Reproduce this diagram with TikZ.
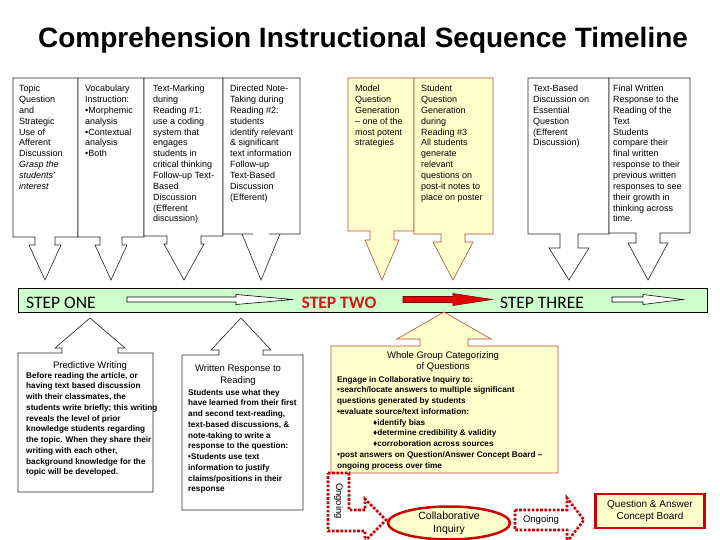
\documentclass[tikz,border=0pt]{standalone}
\usepackage{fontspec}
\setmainfont{Liberation Sans}
\newfontfamily\stepfont{Carlito}
\usetikzlibrary{shapes.geometric}

\definecolor{barGreen}{RGB}{204,255,204}
\definecolor{paleYellow}{RGB}{255,255,204}
\definecolor{boxRed}{RGB}{192,72,56}
\definecolor{dotRed}{RGB}{204,0,0}
\definecolor{stepRed}{RGB}{214,24,24}

\tikzset{
  calloutline/.style={draw=black!85, line width=0.6pt, fill=white},
  yellowline/.style={draw=boxRed, line width=0.6pt, fill=paleYellow},
  smalltext/.style={font=\fontsize{9}{10.85}\selectfont, align=left, anchor=north west, inner sep=0pt},
  bodytext/.style={font=\fontsize{8.2}{10.75}\selectfont\bfseries, align=left, anchor=north west, inner sep=0pt},
  headtext/.style={font=\fontsize{9.5}{12}\selectfont, align=center, anchor=north, inner sep=0pt},
  steptext/.style={font=\stepfont\fontsize{17.5}{18}\selectfont, inner sep=0pt},
  ongoing/.style={draw=dotRed, line width=2.6pt, dash pattern=on 2.6pt off 1.6pt},
}

\begin{document}
\begin{tikzpicture}[x=1pt,y=-1pt]
    \useasboundingbox (0,0) rectangle (720,540);
    \clip (0,0) rectangle (720,540);
    \fill[white] (0,0) rectangle (720,540);

    \node[font=\fontsize{28}{30}\selectfont\bfseries, anchor=base] (title) at (363,48) {Comprehension Instructional Sequence Timeline};

    \foreach \xl/\xr/\yb/\xc/\sw/\hw/\yn in {13/78/237/45/10/16/245, 78/144/237/111/11/16/245, 144/223/236/184/17/20/244, 223/300/234/261/8/19/234, 528/609/234/569/9/20/248, 609/690/233/648/12/20/243} {
      \draw[calloutline] (\xl,78) -- (\xr,78) -- (\xr,\yb) -- (\xc+\sw,\yb) -- (\xc+\sw,\yn) -- (\xc+\hw,\yn) -- (\xc,280) -- (\xc-\hw,\yn) -- (\xc-\sw,\yn) -- (\xc-\sw,\yb) -- (\xl,\yb) -- cycle;
    }
    \foreach \xl/\xr/\yb/\xc/\sw/\hw/\yn in {348/414/231/382/12/17/240, 414/493/234/453/12/20/242} {
      \draw[yellowline] (\xl,78) -- (\xr,78) -- (\xr,\yb) -- (\xc+\sw,\yb) -- (\xc+\sw,\yn) -- (\xc+\hw,\yn) -- (\xc,280) -- (\xc-\hw,\yn) -- (\xc-\sw,\yn) -- (\xc-\sw,\yb) -- (\xl,\yb) -- cycle;
    }

    \node[smalltext] (topic) at (19,85) {Topic\\Question\\and\\Strategic\\Use of\\Afferent\\Discussion\\\textit{Grasp the}\\\textit{students'}\\\textit{interest}};
    \node[smalltext] (vocab) at (85,85) {Vocabulary\\Instruction:\\•Morphemic\\analysis\\•Contextual\\analysis\\•Both};
    \node[smalltext] (marking) at (153,85) {Text-Marking\\during\\Reading \#1:\\use a coding\\system that\\engages\\students in\\critical thinking\\Follow-up Text-\\Based\\Discussion\\(Efferent\\discussion)};
    \node[smalltext] (notes) at (230,85) {Directed Note-\\Taking during\\Reading \#2:\\students\\identify relevant\\\& significant\\text information\\Follow-up\\Text-Based\\Discussion\\(Efferent)};
    \node[smalltext] (model) at (355,85) {Model\\Question\\Generation\\– one of the\\most potent\\strategies};
    \node[smalltext] (student) at (421,85) {Student\\Question\\Generation\\during\\Reading \#3\\All students\\generate\\relevant\\questions on\\post-it notes to\\place on poster};
    \node[smalltext] (essential) at (533,85) {Text-Based\\Discussion on\\Essential\\Question\\(Efferent\\Discussion)};
    \node[smalltext] (final) at (613,85) {Final Written\\Response to the\\Reading of the\\Text\\Students\\compare their\\final written\\response to their\\previous written\\responses to see\\their growth in\\thinking across\\time.};

    \draw[fill=barGreen, line width=0.9pt] (18,288) rectangle (707,312);
    \node[steptext, anchor=west] (one) at (26,302.5) {STEP ONE};
    \node[steptext, font=\stepfont\fontsize{17.5}{18}\selectfont\bfseries, text=stepRed] (two) at (339,302.5) {STEP TWO};
    \node[steptext] (three) at (542,302.5) {STEP THREE};
    \draw[fill=white, line width=0.6pt] (127,297) -- (236,297) -- (236,294.5) -- (293,299.5) -- (236,304.5) -- (236,302) -- (127,302) -- cycle;
    \draw[fill=red!90!black, draw=red!50!black, line width=0.6pt] (403,296.5) -- (453,296.5) -- (453,293.5) -- (492,299.5) -- (453,305.5) -- (453,302.5) -- (403,302.5) -- cycle;
    \draw[fill=white, line width=0.6pt] (612,297) -- (643,297) -- (643,294.5) -- (683,299.5) -- (643,304.5) -- (643,302) -- (612,302) -- cycle;

    \foreach \xl/\xr/\yt/\yb/\xc/\sw/\hw/\yn/\ytip/\sty in {18/153/353/492/90/28/35/348/318/calloutline, 182/303/355/510/241/22/30/350/318/calloutline, 331/558/346/473/444/24/47/339/312/yellowline} {
      \draw[\sty] (\xl,\yt) -- (\xc-\sw,\yt) -- (\xc-\sw,\yn) -- (\xc-\hw,\yn) -- (\xc,\ytip) -- (\xc+\hw,\yn) -- (\xc+\sw,\yn) -- (\xc+\sw,\yt) -- (\xr,\yt) -- (\xr,\yb) -- (\xl,\yb) -- cycle;
    }

    \node[headtext] (predict) at (90,361) {Predictive Writing};
    \node[bodytext] (predictbody) at (26,372) {Before reading the article, or\\having text based discussion\\with their classmates, the\\students write briefly; this writing\\reveals the level of prior\\knowledge students regarding\\the topic.  When they share their\\writing with each other,\\background knowledge for the\\topic will be developed.};
    \node[headtext] (written) at (238,364) {Written Response to\\Reading};
    \node[bodytext] (writtenbody) at (188,389) {Students use what they\\have learned from their first\\and second text-reading,\\text-based discussions, \&\\note-taking to write a\\response to the question:\\•Students use text\\information to justify\\claims/positions in their\\response};
    \node[headtext, font=\fontsize{9.5}{11.5}\selectfont] (whole) at (443,351) {Whole Group Categorizing\\of Questions};
    \node[bodytext] (wholebody) at (337,376) {Engage in Collaborative Inquiry to:\\•search/locate answers to multiple significant\\questions generated by students\\•evaluate source/text information:\\\hspace*{36pt}♦identify bias\\\hspace*{36pt}♦determine credibility \& validity\\\hspace*{36pt}♦corroboration across sources\\•post answers on Question/Answer Concept Board –\\ongoing process over time};

    \draw[ongoing] (328,473) -- (349,473) -- (349,510) -- (365,510) -- (365,499) -- (386,520) -- (365,541) -- (365,531) -- (328,531) -- cycle;
    \node[rotate=-90, font=\fontsize{9.5}{11}\selectfont, inner sep=0pt] (ongoingdown) at (338.5,501) {Ongoing};

    \coordinate (inq) at (449,523);
    \draw[draw=dotRed, line width=2.5pt, fill=paleYellow] (inq) ellipse [x radius=61pt, y radius=16.5pt];
    \node[align=center, font=\fontsize{10.5}{13}\selectfont, inner sep=0pt] (inquiry) at (inq) {Collaborative\\Inquiry};

    \draw[ongoing] (515,510) -- (567,510) -- (567,498) -- (584,520) -- (567,542) -- (567,530) -- (515,530) -- cycle;
    \node[font=\fontsize{9.5}{11}\selectfont, inner sep=0pt] (ongoingright) at (541,520) {Ongoing};

    \node[draw=dotRed, line width=2.5pt, fill=paleYellow, minimum width=109pt, minimum height=34pt, inner sep=1pt, align=center, font=\fontsize{10}{12}\selectfont] (board) at (650,511) {Question \& Answer\\Concept Board};
\end{tikzpicture}
\end{document}
